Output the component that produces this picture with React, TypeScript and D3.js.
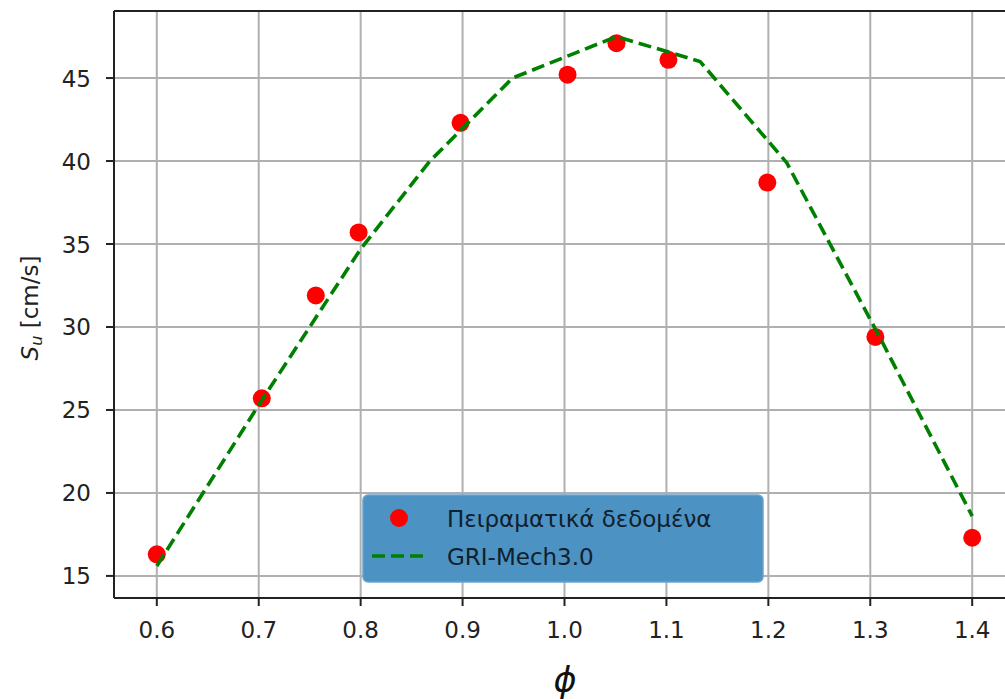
import React, { useEffect, useRef } from "react";
import * as d3 from "d3";

const expPhi = [0.6, 0.703, 0.756, 0.798, 0.898, 1.003, 1.051, 1.102, 1.199, 1.305, 1.4];
const expSu = [16.3, 25.7, 31.9, 35.7, 42.3, 45.2, 47.1, 46.1, 38.7, 29.4, 17.3];

const griPhi = [0.6, 0.7, 0.8, 0.868, 0.949, 1.051, 1.133, 1.218, 1.31, 1.4];
const griSu = [15.6, 25.3, 34.7, 40.0, 45.0, 47.5, 46.0, 39.9, 29.3, 18.6];

const xTicks = [0.6, 0.7, 0.8, 0.9, 1.0, 1.1, 1.2, 1.3, 1.4];
const yTicks = [15, 20, 25, 30, 35, 40, 45];

const W = 1005;
const H = 699;
const FONT = "'DejaVu Sans', sans-serif";

export default function App() {
  const ref = useRef<SVGSVGElement | null>(null);

  useEffect(() => {
    const svg = d3.select(ref.current);
    svg.selectAll("*").remove();

    const left = 114, right = 1015, top = 11, bottom = 598;
    const x = d3.scaleLinear().domain([0.558, 1.442]).range([left, right]);
    const y = d3.scaleLinear().domain([13.67, 49.04]).range([bottom, top]);

    svg.append("rect").attr("x", 0).attr("y", 0).attr("width", W).attr("height", H).attr("fill", "#fff");

    const clipId = "plotclip";
    svg.append("defs").append("clipPath").attr("id", clipId)
      .append("rect").attr("x", left).attr("y", top).attr("width", right - left).attr("height", bottom - top);

    // grid
    const g = svg.append("g");
    g.selectAll("line.gx").data(xTicks).enter().append("line")
      .attr("x1", d => x(d)).attr("x2", d => x(d)).attr("y1", top).attr("y2", bottom)
      .attr("stroke", "#b0b0b0").attr("stroke-width", 2);
    g.selectAll("line.gy").data(yTicks).enter().append("line")
      .attr("x1", left).attr("x2", right).attr("y1", d => y(d)).attr("y2", d => y(d))
      .attr("stroke", "#b0b0b0").attr("stroke-width", 2);

    const plot = svg.append("g").attr("clip-path", `url(#${clipId})`);
    // experimental dots
    plot.selectAll("circle").data(expPhi).enter().append("circle")
      .attr("cx", d => x(d)).attr("cy", (_d, i) => y(expSu[i])).attr("r", 9)
      .attr("fill", "#ff0000");
    // GRI line
    const line = d3.line<number>().x(d => x(d)).y((_d, i) => y(griSu[i]));
    plot.append("path").attr("d", line(griPhi) as string)
      .attr("fill", "none").attr("stroke", "#008000").attr("stroke-width", 3.6)
      .attr("stroke-dasharray", "13,6");

    // spines
    svg.append("line").attr("x1", left).attr("x2", left).attr("y1", top).attr("y2", bottom)
      .attr("stroke", "#222").attr("stroke-width", 2);
    svg.append("line").attr("x1", left).attr("x2", right).attr("y1", bottom).attr("y2", bottom)
      .attr("stroke", "#222").attr("stroke-width", 2);
    svg.append("line").attr("x1", left).attr("x2", right).attr("y1", top).attr("y2", top)
      .attr("stroke", "#222").attr("stroke-width", 2);

    // ticks
    svg.selectAll("line.tx").data(xTicks).enter().append("line")
      .attr("x1", d => x(d)).attr("x2", d => x(d)).attr("y1", bottom).attr("y2", bottom + 8)
      .attr("stroke", "#222").attr("stroke-width", 2);
    svg.selectAll("text.tx").data(xTicks).enter().append("text")
      .attr("x", d => x(d)).attr("y", 638).attr("text-anchor", "middle")
      .attr("font-family", FONT).attr("font-size", 23).attr("fill", "#222")
      .text(d => d3.format(".1f")(d));
    svg.selectAll("line.ty").data(yTicks).enter().append("line")
      .attr("x1", left - 8).attr("x2", left).attr("y1", d => y(d)).attr("y2", d => y(d))
      .attr("stroke", "#222").attr("stroke-width", 2);
    svg.selectAll("text.ty").data(yTicks).enter().append("text")
      .attr("x", 91).attr("y", d => y(d) + 8.5).attr("text-anchor", "end")
      .attr("font-family", FONT).attr("font-size", 23).attr("fill", "#222")
      .text(d => String(d));

    // y label
    const yl = svg.append("text").attr("transform", "translate(38,308) rotate(-90)")
      .attr("text-anchor", "middle").attr("font-family", FONT).attr("font-size", 23).attr("fill", "#222");
    yl.append("tspan").attr("font-style", "italic").text("S");
    yl.append("tspan").attr("font-style", "italic").attr("font-size", 16).attr("dy", 4).text("u");
    yl.append("tspan").attr("dy", -4).text(" [cm/s]");

    // x label
    svg.append("text").attr("x", 565).attr("y", 692).attr("text-anchor", "middle")
      .attr("font-family", FONT).attr("font-style", "italic").attr("font-size", 35).attr("fill", "#111")
      .text("ϕ");

    // legend
    const lg = svg.append("g");
    lg.append("rect").attr("x", 363).attr("y", 495).attr("width", 400).attr("height", 87)
      .attr("rx", 5).attr("fill", "#4c92c3").attr("stroke", "#6aa3cc").attr("stroke-width", 1.5);
    lg.append("circle").attr("cx", 399).attr("cy", 518).attr("r", 9).attr("fill", "#ff0000");
    lg.append("line").attr("x1", 372).attr("x2", 426).attr("y1", 556).attr("y2", 556)
      .attr("stroke", "#008000").attr("stroke-width", 3.6).attr("stroke-dasharray", "13,6");
    lg.append("text").attr("x", 447).attr("y", 527).attr("font-family", FONT).attr("font-size", 23)
      .attr("fill", "#10202e").text("Πειραματικά δεδομένα");
    lg.append("text").attr("x", 447).attr("y", 565).attr("font-family", FONT).attr("font-size", 23)
      .attr("fill", "#10202e").text("GRI-Mech3.0");
  }, []);

  return (
    <div style={{ position: "fixed", left: 0, top: 0 }}>
      <svg ref={ref} width={W} height={H} style={{ display: "block" }} />
    </div>
  );
}
